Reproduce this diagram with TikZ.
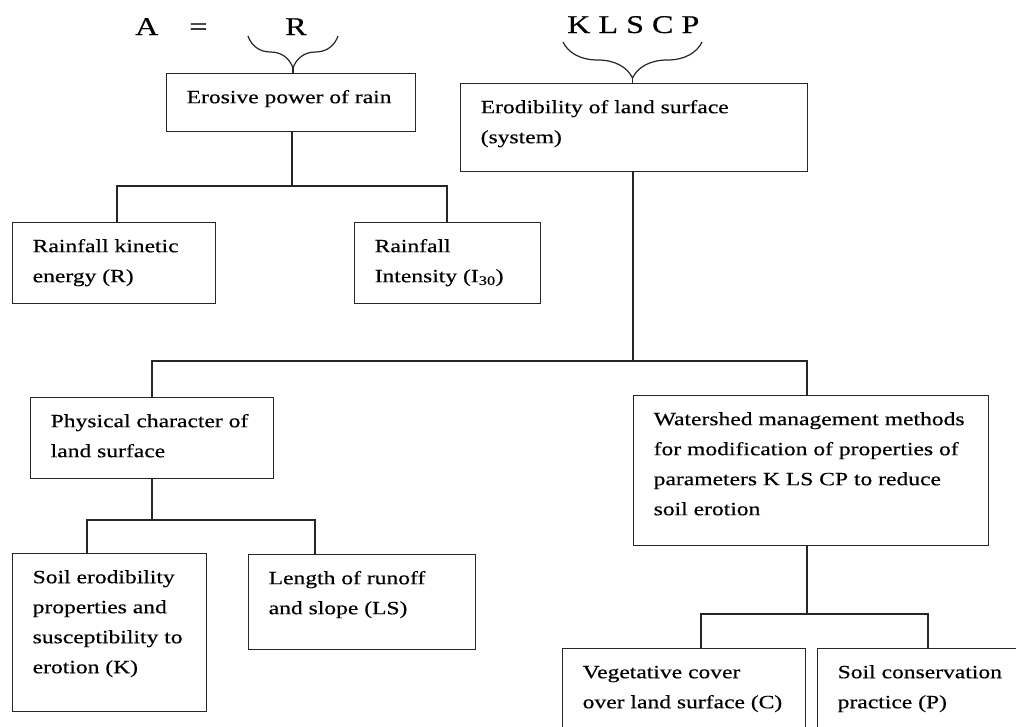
\documentclass[tikz,border=0pt]{standalone}
\usepackage{fontspec}
\setmainfont{Liberation Serif}[FakeStretch=1.26,FakeBold=0.4]
\usetikzlibrary{decorations.pathreplacing}
\newcommand\drawbox[6]{%
  \node[boxshape, minimum width=#4pt-#2pt, minimum height=#5pt-#3pt] (#1) at (#2,#3) {};
  \node[txt] (#1t) at (#2+20.5,#3+16) {\rule{0pt}{14pt}#6};
}
\begin{document}
\begin{tikzpicture}[x=1pt,y=-1pt,
  boxshape/.style={draw=black!85, line width=1.3pt, rectangle, anchor=north west, inner sep=0pt},
  txt/.style={anchor=north west, inner sep=0pt, align=left, font=\fontsize{18.7}{30}\selectfont},
  link/.style={draw=black!85, line width=1.2pt},
  big/.style={anchor=base west, inner sep=0pt, font=\fontsize{25.5}{30}\selectfont}]
\clip (0,0) rectangle (1016,726);
\fill[white] (0,0) rectangle (1016,726);

% top formula
\node[big] (A) at (135,35) {A};
\node[big] (eq) at (189,35) {=};
\node[big] (R) at (285,35) {R};
\node[big] (K) at (567,33) {K L S C P};

% boxes
\drawbox{erosive}{166}{73}{415}{131}{Erosive power of rain}
\drawbox{erod}{460}{83}{807}{171}{Erodibility of land surface\\(system)}
\drawbox{rke}{12}{222}{215}{303}{Rainfall kinetic\\energy (R)}
\drawbox{rint}{354}{222}{540}{303}{Rainfall\\Intensity (I\textsubscript{30})}
\drawbox{phys}{30}{397}{273}{478}{Physical character of\\land surface}
\drawbox{ws}{633}{395}{988}{545}{Watershed management methods\\for modification of properties of\\parameters K LS CP to reduce\\soil erotion}
\drawbox{soil}{12}{553}{206}{711}{Soil erodibility\\properties and\\susceptibility to\\erotion (K)}
\drawbox{len}{248}{554}{475}{649}{Length of runoff\\and slope (LS)}
\drawbox{veg}{562}{648}{805}{745}{Vegetative cover\\over land surface (C)}
\drawbox{sc}{817}{648}{1030}{745}{Soil conservation\\practice (P)}

% braces
\draw[link, decorate, decoration={brace, amplitude=32pt}] (338,36) -- (248,36);
\coordinate (bR) at (293,68);
\draw[link] (bR) -- ([xshift=127pt]erosive.north west);
\draw[link, decorate, decoration={brace, amplitude=36pt}] (702,42) -- (563,42);
\coordinate (bK) at (632.5,78);
\draw[link] (bK) -- ([xshift=172.5pt]erod.north west);

% connectors
\coordinate (j1) at (292,186);
\draw[link] ([xshift=126pt]erosive.south west) -- (j1);
\draw[link] ([xshift=105pt]rke.north west) |- (j1) -| ([xshift=93pt]rint.north west);

\coordinate (j2) at (633,361);
\draw[link] ([xshift=173pt]erod.south west) -- (j2);
\draw[link] ([xshift=122pt]phys.north west) |- (j2) -| ([xshift=174pt]ws.north west);

\coordinate (j3) at (152,520);
\draw[link] ([xshift=122pt]phys.south west) -- (j3);
\draw[link] ([xshift=75pt]soil.north west) |- (j3) -| ([xshift=67pt]len.north west);

\coordinate (j4) at (807,614);
\draw[link] ([xshift=174pt]ws.south west) -- (j4);
\draw[link] ([xshift=139pt]veg.north west) |- (j4) -| ([xshift=111pt]sc.north west);
\end{tikzpicture}
\end{document}
